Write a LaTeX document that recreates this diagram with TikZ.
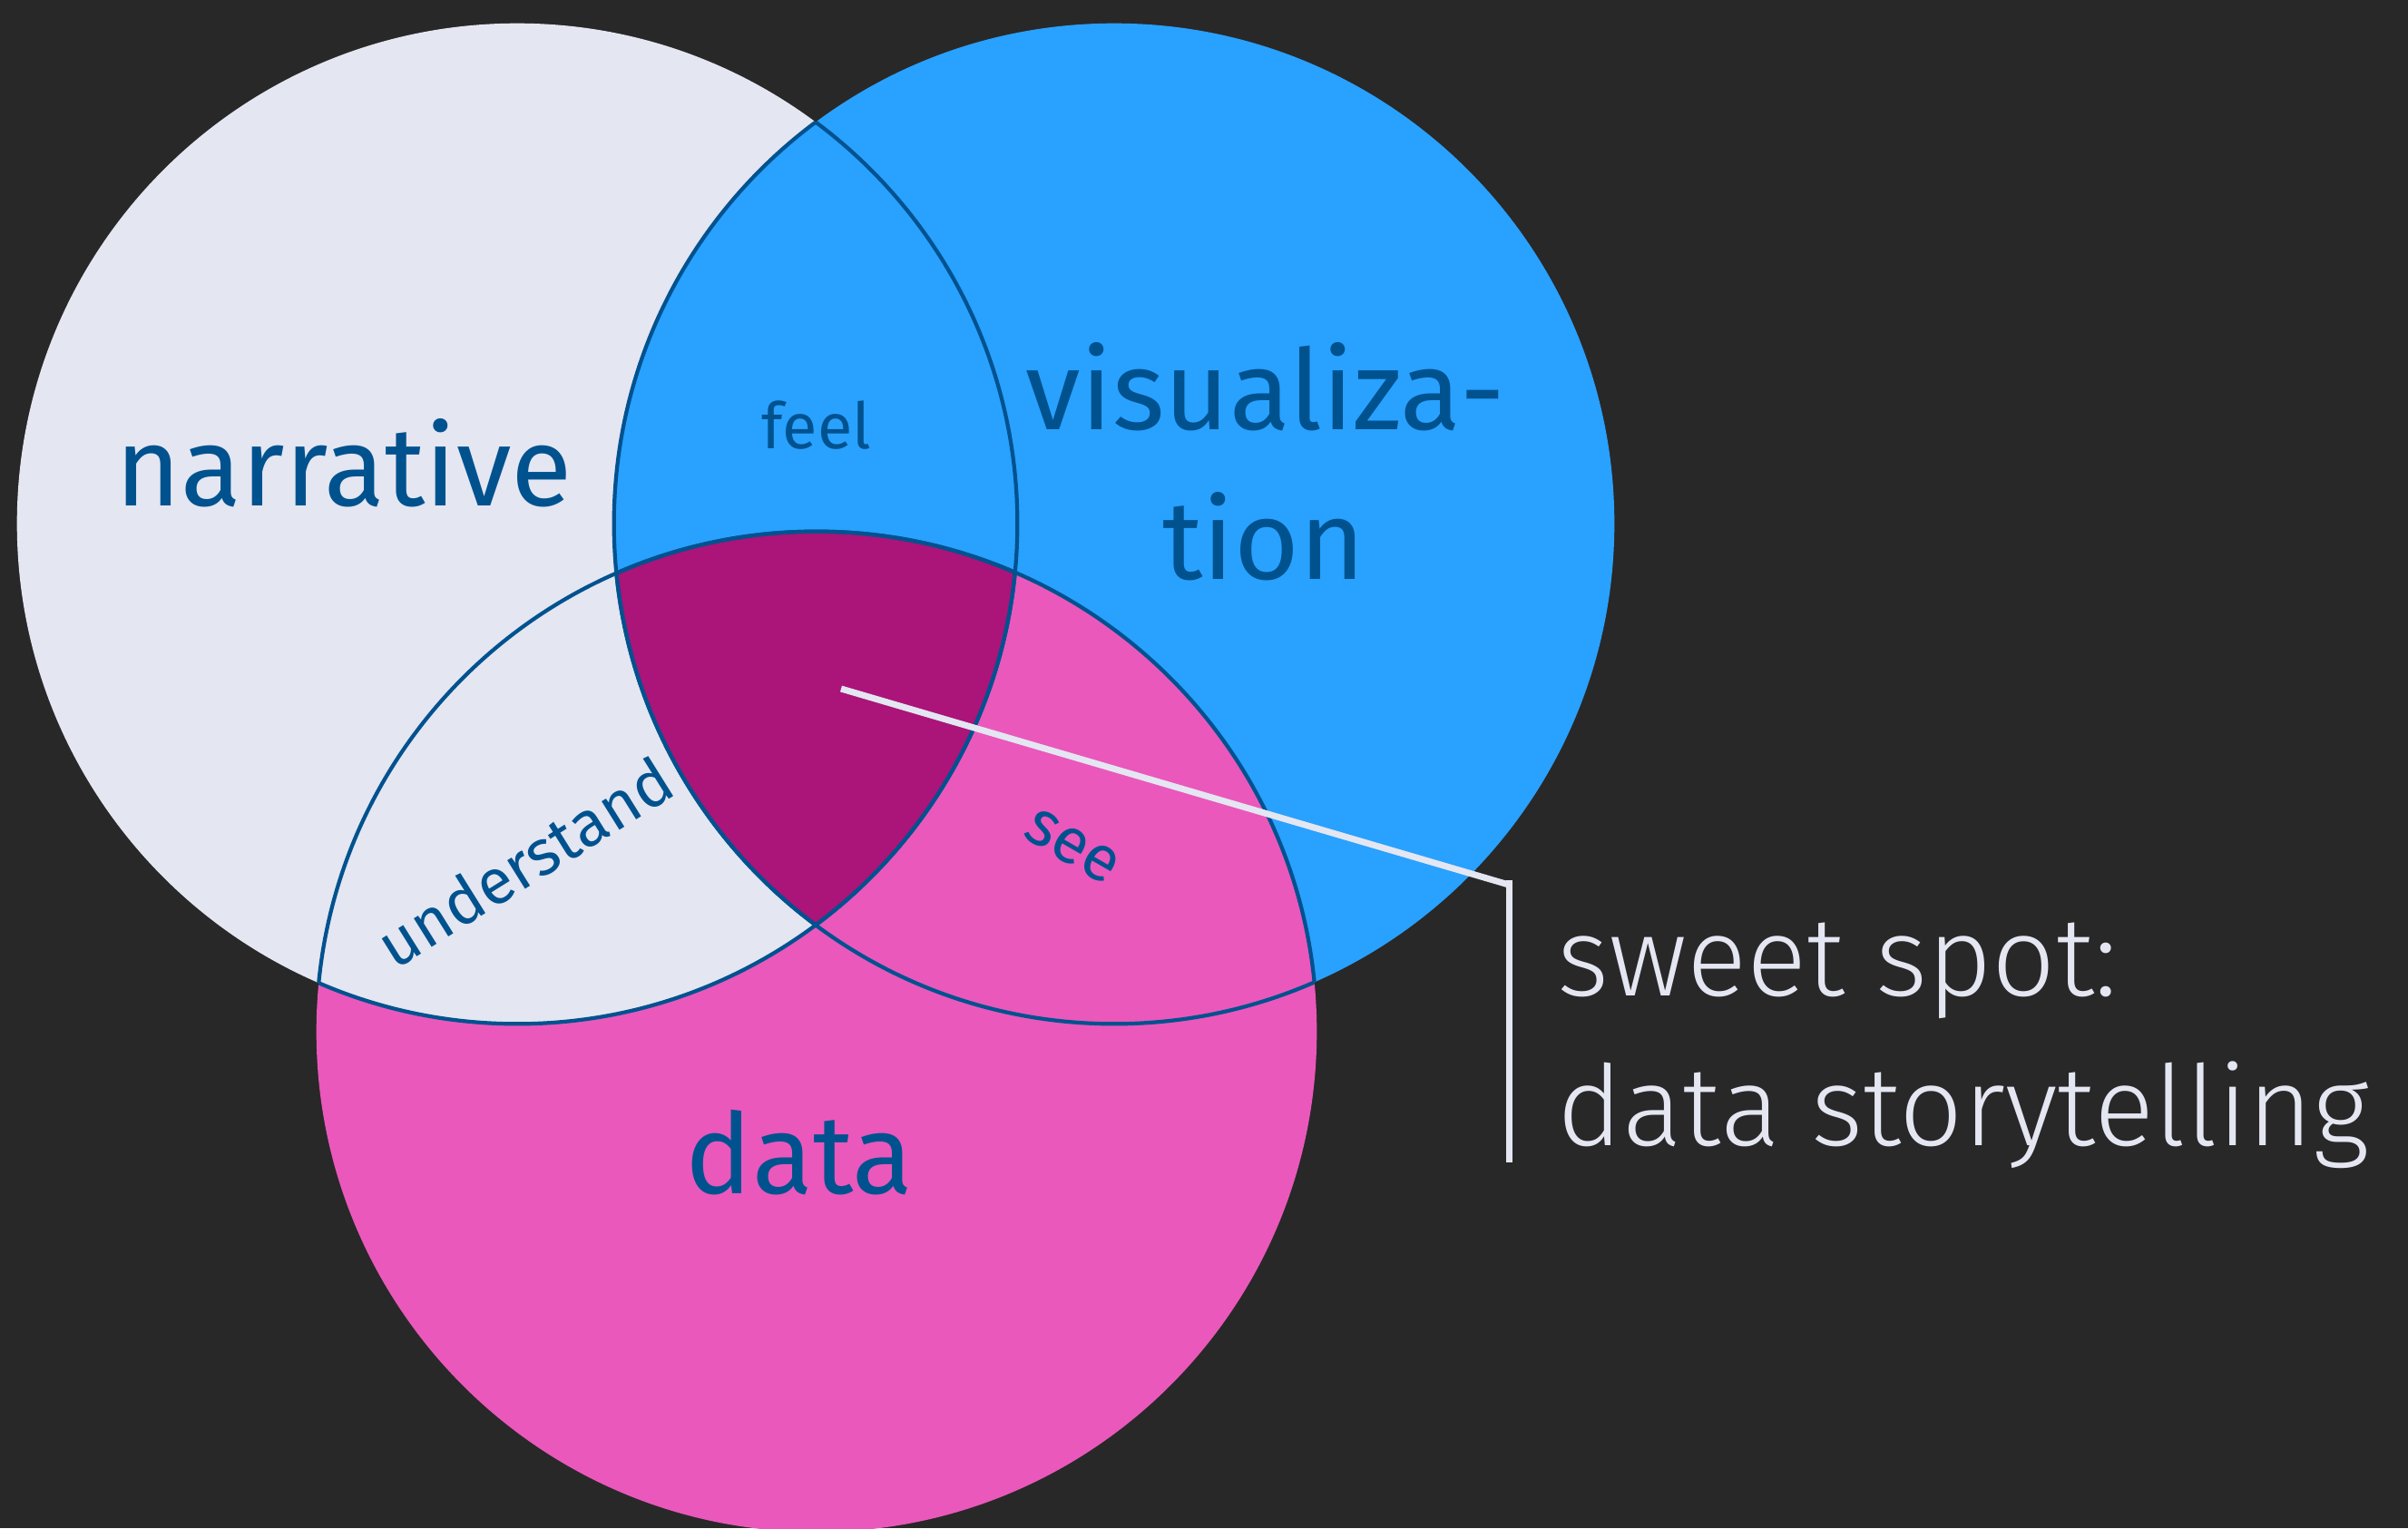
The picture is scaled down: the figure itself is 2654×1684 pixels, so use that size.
\documentclass[tikz,border=0pt]{standalone}
\usepackage{fontspec}
\setmainfont{Fira Sans}
\newfontfamily\chalkfont{Fira Sans Light}
\definecolor{board}{HTML}{282828}
\definecolor{paper}{HTML}{E4E6F2}
\definecolor{sky}{HTML}{29A1FF}
\definecolor{rose}{HTML}{EA58BB}
\definecolor{plum}{HTML}{AB1479}
\definecolor{ink}{HTML}{00528F}
\newcommand\vennrad{5.51cm}
\begin{document}
\begin{tikzpicture}[x=0.01cm,y=-0.01cm,
    big/.style={font=\fontsize{35}{42}\selectfont,text=ink,anchor=base,inner sep=0pt},
    small/.style={font=\fontsize{20}{24}\selectfont,text=ink,inner sep=0pt},
    chalk/.style={font=\chalkfont\fontsize{35}{42}\selectfont,text=paper,anchor=base west,inner sep=0pt},
    rim/.style={draw=ink,line width=1.2pt},
    leader/.style={draw=paper,line width=2pt}]
  \fill[board] (0,0) rectangle (2654,1684);
  \useasboundingbox (0,0) rectangle (2654,1684);
  \coordinate (narr) at (570,577);
  \coordinate (vis) at (1228,577);
  \coordinate (dat) at (900,1137);
  % the three sets
  \fill[paper] (narr) circle[radius=\vennrad];
  \fill[sky] (vis) circle[radius=\vennrad];
  \fill[rose] (dat) circle[radius=\vennrad];
  \begin{scope}
    \clip (narr) circle[radius=\vennrad];
    \fill[paper] (dat) circle[radius=\vennrad];
    \clip (vis) circle[radius=\vennrad];
    \fill[plum] (dat) circle[radius=\vennrad];
  \end{scope}
  % rims only where circles overlap
  \foreach \a/\b in {narr/vis,narr/dat,vis/narr,vis/dat,dat/narr,dat/vis}{
    \begin{scope}
      \clip (\b) circle[radius=\vennrad];
      \draw[rim] (\a) circle[radius=\vennrad];
    \end{scope}
  }
  \node[big] (narrlabel) at (379,557) {narrative};
  \node[big] (vislabel) at (1395,473) {visualiza-};
  \node[big] (vistail) at (1393,638) {tion};
  \node[big] (datlabel) at (881,1315) {data};
  \node[small,anchor=base] (feellabel) at (900,494) {feel};
  \node[small,rotate=32] (understandlabel) at (578,950) {understand};
  \node[small,rotate=-30] (seelabel) at (1182,933) {see};
  % sweet spot callout
  \coordinate (spot) at (927,759);
  \coordinate (elbow) at (1663,975);
  \coordinate (bartop) at (1663,970);
  \coordinate (barfoot) at (1663,1281);
  \draw[leader] (spot) -- (elbow);
  \draw[leader] (bartop) -- (barfoot);
  \node[chalk] (sweetline) at (1716,1097) {sweet spot:};
  \node[chalk] (storyline) at (1716,1262) {data storytelling};
\end{tikzpicture}
\end{document}
